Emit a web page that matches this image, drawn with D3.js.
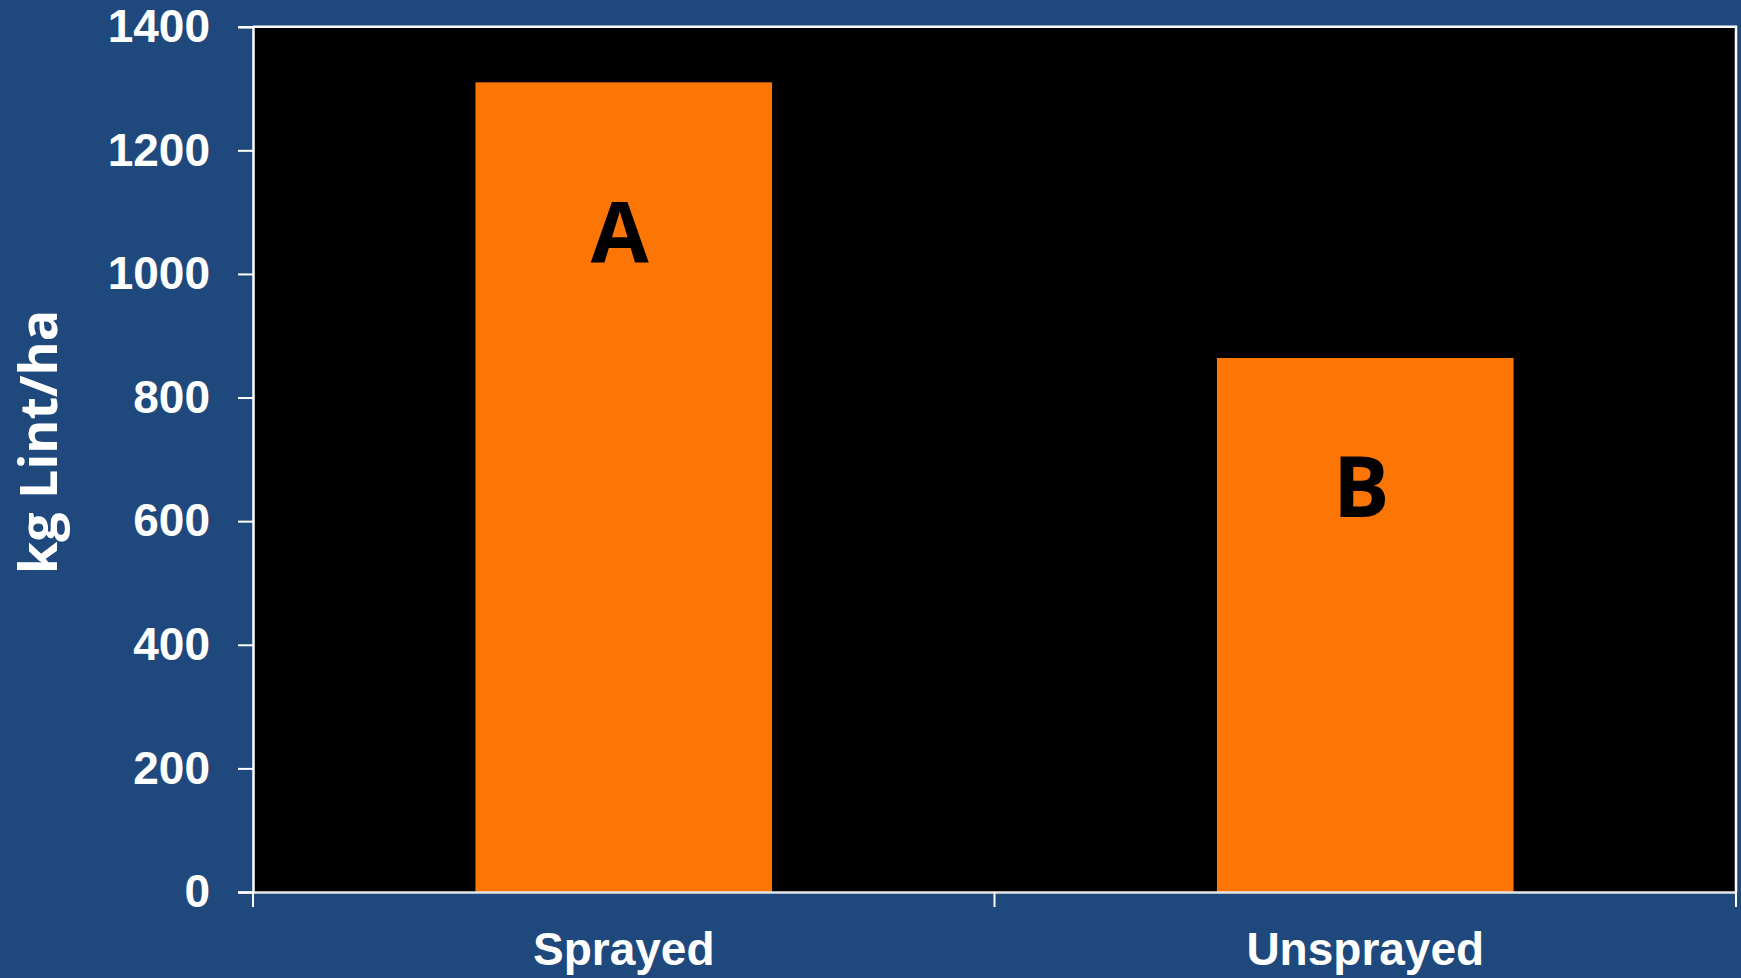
<!DOCTYPE html>
<html>
<head>
<meta charset="utf-8">
<script src="https://cdn.jsdelivr.net/npm/d3@7"></script>
<style>
  html, body { margin: 0; padding: 0; background: #1f497d; }
  svg { display: block; }
</style>
</head>
<body>
<svg id="chart" width="1741" height="978"></svg>
<script>
// Lint yield by treatment
const categories = ["Sprayed", "Unsprayed"];
const yieldValues = [1310, 864];
const groupLetters = ["A", "B"];
const letterValues = [1020, 606];
const yTicks = [0, 200, 400, 600, 800, 1000, 1200, 1400];

const width = 1741, height = 978;
const margin = { top: 26.7, right: 5, bottom: 86, left: 253 };
const innerW = width - margin.left - margin.right;
const innerH = height - margin.top - margin.bottom;

const svg = d3.select("#chart");
svg.append("rect").attr("width", width).attr("height", height).attr("fill", "#1f497d");

const g = svg.append("g").attr("transform", `translate(${margin.left},${margin.top})`);

const x = d3.scaleBand().domain(categories).range([0, innerW])
  .paddingInner(0.6).paddingOuter(0.3);
const y = d3.scaleLinear().domain([0, 1400]).range([innerH, 0]);

// plot background
g.append("rect").attr("width", innerW).attr("height", innerH).attr("fill", "#000");

// bars
g.selectAll("rect.bar").data(categories).join("rect")
  .attr("class", "bar")
  .attr("x", d => x(d))
  .attr("width", x.bandwidth())
  .attr("y", (d, i) => y(yieldValues[i]))
  .attr("height", (d, i) => innerH - y(yieldValues[i]))
  .attr("fill", "#fd7605");

// significance letters
g.selectAll("text.letter").data(categories).join("text")
  .attr("class", "letter")
  .attr("x", d => x(d) + x.bandwidth() / 2 - 4)
  .attr("y", (d, i) => y(letterValues[i]))
  .attr("text-anchor", "middle")
  .attr("font-family", "'Open Sans', sans-serif")
  .attr("font-weight", 700)
  .attr("font-size", 84)
  .attr("fill", "#000")
  .text((d, i) => groupLetters[i]);

// frame on top and right
g.append("path")
  .attr("d", `M0,0H${innerW}V${innerH}`)
  .attr("fill", "none").attr("stroke", "#fff").attr("stroke-width", 2.5);

// y axis
const yAxis = g.append("g")
  .call(d3.axisLeft(y).tickValues(yTicks).tickFormat(d3.format("d"))
    .tickSize(15).tickPadding(28));
yAxis.select(".domain").attr("stroke", "#fff").attr("stroke-width", 2.5);
yAxis.selectAll(".tick line").attr("stroke", "#fff").attr("stroke-width", 2);
yAxis.selectAll(".tick text")
  .attr("fill", "#fff")
  .attr("font-family", "'Liberation Sans', Arial, sans-serif")
  .attr("font-weight", 700)
  .attr("font-size", 46);

// x axis: category labels under band centres, ticks at band boundaries
const xAxis = g.append("g").attr("transform", `translate(0,${innerH})`)
  .call(d3.axisBottom(x).tickSize(0).tickPadding(0));
xAxis.select(".domain").attr("stroke", "#e6e6e6").attr("stroke-width", 2.5);
xAxis.selectAll(".tick text")
  .attr("y", 73).attr("dy", null)
  .attr("fill", "#fff")
  .attr("font-family", "'Liberation Sans', Arial, sans-serif")
  .attr("font-weight", 700)
  .attr("font-size", 46);

const boundaries = [0, ...categories.map(c => x(c) + x.bandwidth() + x.step() * x.paddingInner() / 2)];
boundaries[boundaries.length - 1] = innerW;
xAxis.selectAll("line.bound").data(boundaries).join("line")
  .attr("class", "bound")
  .attr("x1", d => d).attr("x2", d => d)
  .attr("y1", 0).attr("y2", 15)
  .attr("stroke", "#fff").attr("stroke-width", 2);

// y axis title
svg.append("text")
  .attr("transform", `translate(57,442) rotate(-90)`)
  .attr("text-anchor", "middle")
  .attr("fill", "#fff")
  .attr("font-family", "'Open Sans', sans-serif")
  .attr("font-weight", 700)
  .attr("font-size", 52)
  .text("kg Lint/ha");
</script>
</body>
</html>
